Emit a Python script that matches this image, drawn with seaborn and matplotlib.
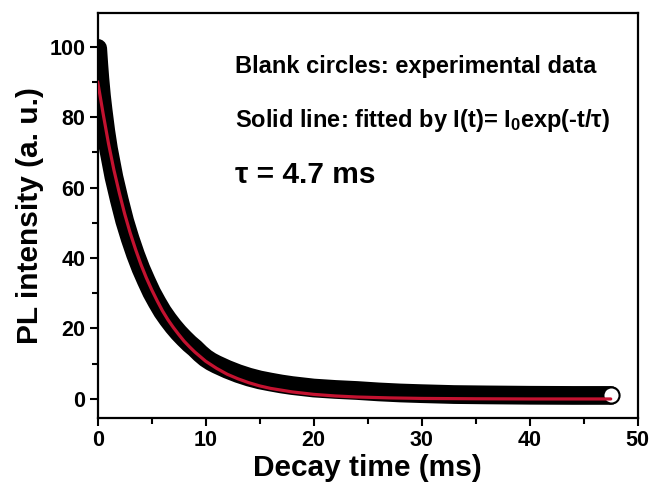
import seaborn as sns
import matplotlib.pyplot as plt
from matplotlib.ticker import MultipleLocator

# experimental decay (centre of the band of circles)
data_time = [0, 0.1, 0.2, 0.35, 0.5, 0.75, 1.0, 1.5, 2.0, 2.5, 3.0, 3.5, 4.0, 4.5, 5.0,
             5.5, 6.0, 6.5, 7.0, 7.5, 8.0, 8.5, 9.0, 9.5, 10, 10.5, 11, 11.5, 12, 13, 14,
             15, 16, 17, 18, 20, 22, 24, 26, 28, 30, 33, 36, 40, 44, 47.5]
data_pl = [99.5, 95, 91, 86, 82, 76, 71, 63, 56.5, 50.5, 45.5, 41, 37, 33.5, 30.2,
           27.4, 24.8, 22.6, 20.6, 18.8, 17.2, 15.7, 14.4, 12.9, 11.6, 10.6, 9.8, 9.1, 8.4,
           7.2, 6.2, 5.4, 4.8, 4.25, 3.8, 3.1, 2.7, 2.4, 2.0, 1.7,
           1.5, 1.25, 1.15, 1.05, 1.0, 1.0]

# fitted single exponential (red line)
fit_time = [0, 0.5, 1, 1.5, 2, 2.5, 3, 3.5, 4, 4.5, 5, 5.5, 6, 6.5, 7, 7.5, 8, 8.5, 9,
            9.5, 10, 11, 12, 13, 14, 15, 16, 18, 20, 22, 24, 27, 30, 35, 40, 47.5]
fit_pl = [90, 81, 72.5, 65, 58.5, 52.5, 47.2, 42.5, 38.2, 34.4, 31, 27.9, 25, 22.5, 20.3,
          18.3, 16.4, 14.8, 13.3, 12.0, 10.7, 8.7, 7.0, 5.7, 4.6, 3.7, 3.0, 2.0, 1.3,
          0.85, 0.55, 0.3, 0.15, 0.05, 0.0, 0.0]

sns.set_style('ticks')
plt.rcParams['font.family'] = ['Liberation Sans', 'DejaVu Sans']
plt.rcParams['font.weight'] = 'bold'
plt.rcParams['text.color'] = 'black'
plt.rcParams['axes.labelcolor'] = 'black'
plt.rcParams['axes.edgecolor'] = 'black'
plt.rcParams['xtick.color'] = 'black'
plt.rcParams['ytick.color'] = 'black'
plt.rcParams['mathtext.fontset'] = 'custom'
plt.rcParams['mathtext.rm'] = 'Liberation Sans:bold'
plt.rcParams['mathtext.it'] = 'Liberation Sans:bold'
plt.rcParams['mathtext.bf'] = 'Liberation Sans:bold'
plt.rcParams['mathtext.default'] = 'rm'

fig = plt.figure(figsize=(6.53, 4.84), dpi=100)
ax = fig.add_axes([0.1496, 0.1364, 0.827, 0.8366])

# dense circles merge into a solid black band
sns.lineplot(x=data_time, y=data_pl, ax=ax, color='black', linewidth=13.5,
             estimator=None, sort=False, solid_capstyle='round', solid_joinstyle='round',
             zorder=2)
sns.scatterplot(x=data_time[-1:], y=data_pl[-1:], ax=ax, marker='o', s=135,
                facecolor='white', edgecolor='black', linewidth=1.5, zorder=3)
sns.lineplot(x=fit_time, y=fit_pl, ax=ax, color='#c41230', linewidth=2.3,
             estimator=None, sort=False, zorder=4)

ax.set_xlim(0, 50)
ax.set_ylim(-5.4, 109.5)
ax.xaxis.set_major_locator(MultipleLocator(10))
ax.xaxis.set_minor_locator(MultipleLocator(5))
ax.yaxis.set_major_locator(MultipleLocator(20))
ax.yaxis.set_minor_locator(MultipleLocator(10))
ax.tick_params(which='major', direction='out', length=6, width=1.5, labelsize=15.5, pad=3)
ax.tick_params(which='minor', direction='out', length=4, width=1.5)
for s in ax.spines.values():
    s.set_linewidth(1.6)
    s.set_visible(True)

ax.set_xlabel('Decay time (ms)', fontsize=21.5, fontweight='bold', labelpad=2)
ax.set_ylabel('PL intensity (a. u.)', fontsize=21.5, fontweight='bold', labelpad=4)

ax.text(0.36, 0.8616, 'Blank circles: experimental data', transform=fig.transFigure,
        fontsize=17, fontweight='bold', va='center', ha='left')
ax.text(0.36, 0.752, r'Solid line: fitted by I(t)= I$_0$exp(-t/τ)', transform=fig.transFigure,
        fontsize=17, fontweight='bold', va='center', ha='left')
ax.text(0.36, 0.638, 'τ = 4.7 ms', transform=fig.transFigure,
        fontsize=21.5, fontweight='bold', va='center', ha='left')

fig.savefig('out.png', dpi=100)
